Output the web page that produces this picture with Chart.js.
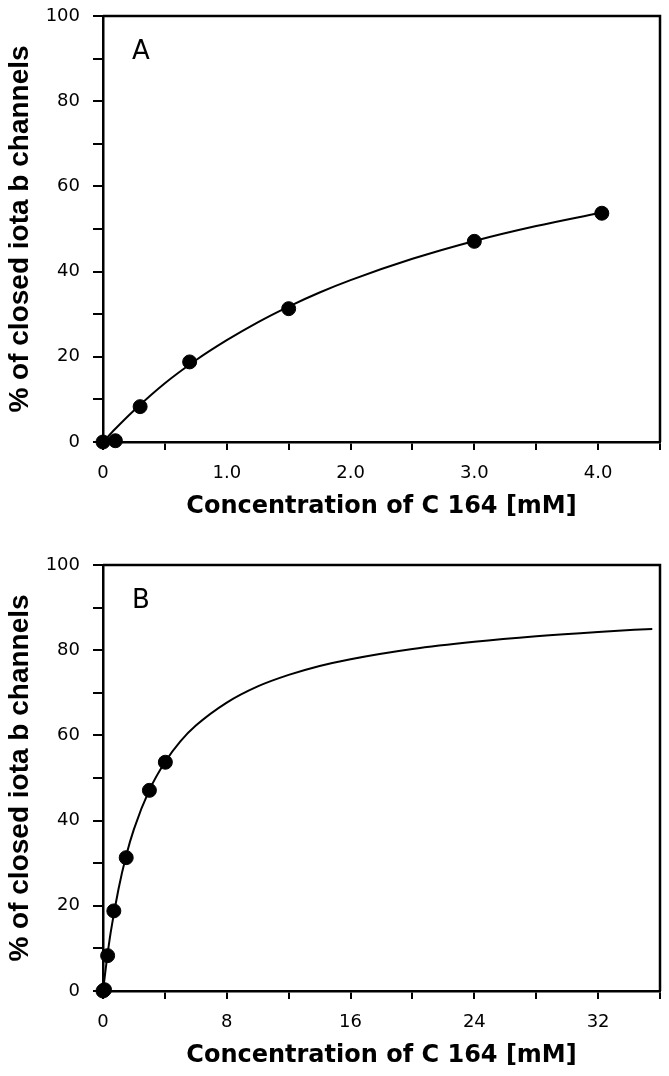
<!DOCTYPE html>
<html>
<head>
<meta charset="utf-8">
<script src="https://cdn.jsdelivr.net/npm/chart.js@4.4.1/dist/chart.umd.min.js"></script>
<style>
    body { margin: 0; background: #fff; }
    .panel { position: relative; width: 669px; }
</style>
</head>
<body>
<div class="panel" style="height:549px"><canvas id="chartA"></canvas></div>
<div class="panel" style="height:527px"><canvas id="chartB"></canvas></div>
<script>
// measured points, same for both panels
const concX = [0, 0.1, 0.3, 0.7, 1.5, 3.0, 4.03];
const closedY = [0, 0.3, 8.3, 18.8, 31.3, 47.1, 53.7];

// fitted curve
const curveAX = [0, 0.1, 0.25, 0.5, 0.75, 1.0, 1.25, 1.5, 1.75, 2.0, 2.5, 3.0, 3.5, 4.0];
const curveAY = [0, 3.1, 7.4, 13.8, 19.2, 23.9, 28.1, 31.8, 35.1, 38.0, 43.0, 47.2, 50.7, 53.7];

// fitted curve
const curveBX = [0, 0.25, 0.5, 1, 1.5, 2, 3, 4, 5, 6, 8, 10, 12, 14, 16, 20, 24, 28, 32, 35.5];
const curveBY = [0, 7.4, 13.8, 23.9, 31.8, 38.0, 47.2, 53.7, 58.6, 62.3, 67.7, 71.5, 74.2, 76.3, 77.9, 80.3, 82.0, 83.3, 84.3, 85.0];

const xTitle = 'Concentration of C 164 [mM]';
const yTitle = '% of closed iota b channels';

const toXY = (xs, ys) => xs.map((x, i) => ({ x: x, y: ys[i] }));

// box around the plot + panel letter
const framePlugin = {
    id: 'frame',
    afterDraw(chart, args, opts) {
        const { ctx, chartArea: a } = chart;
        ctx.save();
        ctx.strokeStyle = '#000';
        ctx.lineWidth = 2.5;
        ctx.beginPath();
        ctx.moveTo(a.left, a.top);
        ctx.lineTo(a.right, a.top);
        ctx.lineTo(a.right, a.bottom);
        ctx.stroke();
        ctx.fillStyle = '#000';
        ctx.font = '26px "DejaVu Sans"';
        ctx.textAlign = 'left';
        ctx.textBaseline = 'alphabetic';
        ctx.fillText(opts.letter, a.left + 29, a.top + 43);
        ctx.restore();
    }
};

function makePanel(canvasId, letter, xMax, xStep, xLabel, curveX, curveY, bottomPad) {
    const ctx = document.getElementById(canvasId).getContext('2d');
    return new Chart(ctx, {
        type: 'scatter',
        data: {
            datasets: [
                {
                    data: toXY(concX, closedY),
                    backgroundColor: '#000',
                    borderColor: '#000',
                    pointRadius: 7,
                    pointHoverRadius: 7,
                    showLine: false,
                    clip: false
                },
                {
                    data: toXY(curveX, curveY),
                    showLine: true,
                    borderColor: '#000',
                    borderWidth: 2,
                    pointRadius: 0,
                    cubicInterpolationMode: 'monotone',
                    clip: false
                }
            ]
        },
        options: {
            responsive: true,
            maintainAspectRatio: false,
            animation: false,
            layout: { padding: { top: 16, right: 9, bottom: bottomPad, left: 0 } },
            plugins: {
                legend: { display: false },
                tooltip: { enabled: false },
                frame: { letter: letter }
            },
            scales: {
                x: {
                    type: 'linear',
                    min: 0,
                    max: xMax,
                    afterFit: s => {
                        s.height = 85;
                        s.paddingLeft = 0;
                        s.paddingRight = 0;
                    },
                    border: { display: true, color: '#000', width: 2.5 },
                    grid: { drawOnChartArea: false, drawTicks: true, tickLength: 8, color: '#000', lineWidth: 2 },
                    ticks: {
                        stepSize: xStep,
                        autoSkip: false,
                        maxRotation: 0,
                        padding: 13,
                        color: '#000',
                        font: { family: 'DejaVu Sans', size: 18 },
                        callback: xLabel
                    },
                    title: {
                        display: true,
                        text: xTitle,
                        color: '#000',
                        font: { family: 'DejaVu Sans', size: 24, weight: 'bold' },
                        padding: { top: 0, bottom: 6 }
                    }
                },
                y: {
                    min: 0,
                    max: 100,
                    afterFit: s => {
                        s.width = 103;
                        s.paddingTop = 0;
                        s.paddingBottom = 0;
                    },
                    border: { display: true, color: '#000', width: 2.5 },
                    grid: { drawOnChartArea: false, drawTicks: true, tickLength: 10, color: '#000', lineWidth: 2 },
                    ticks: {
                        stepSize: 10,
                        autoSkip: false,
                        padding: 13,
                        color: '#000',
                        font: { family: 'DejaVu Sans', size: 18 },
                        callback: v => (v % 20 === 0 ? String(v) : '')
                    },
                    title: {
                        display: true,
                        text: yTitle,
                        color: '#000',
                        font: { family: 'Liberation Sans', size: 28, weight: 'bold' },
                        padding: { top: 3, bottom: 0 }
                    }
                }
            }
        },
        plugins: [framePlugin]
    });
}

makePanel('chartA', 'A', 4.5, 0.5,
    v => (v === 0 ? '0' : (Math.abs(v % 1) < 1e-9 ? v.toFixed(1) : '')),
    curveAX, curveAY, 22);

makePanel('chartB', 'B', 36, 4,
    v => (v % 8 === 0 ? String(v) : ''),
    curveBX, curveBY, 0);
</script>
</body>
</html>
